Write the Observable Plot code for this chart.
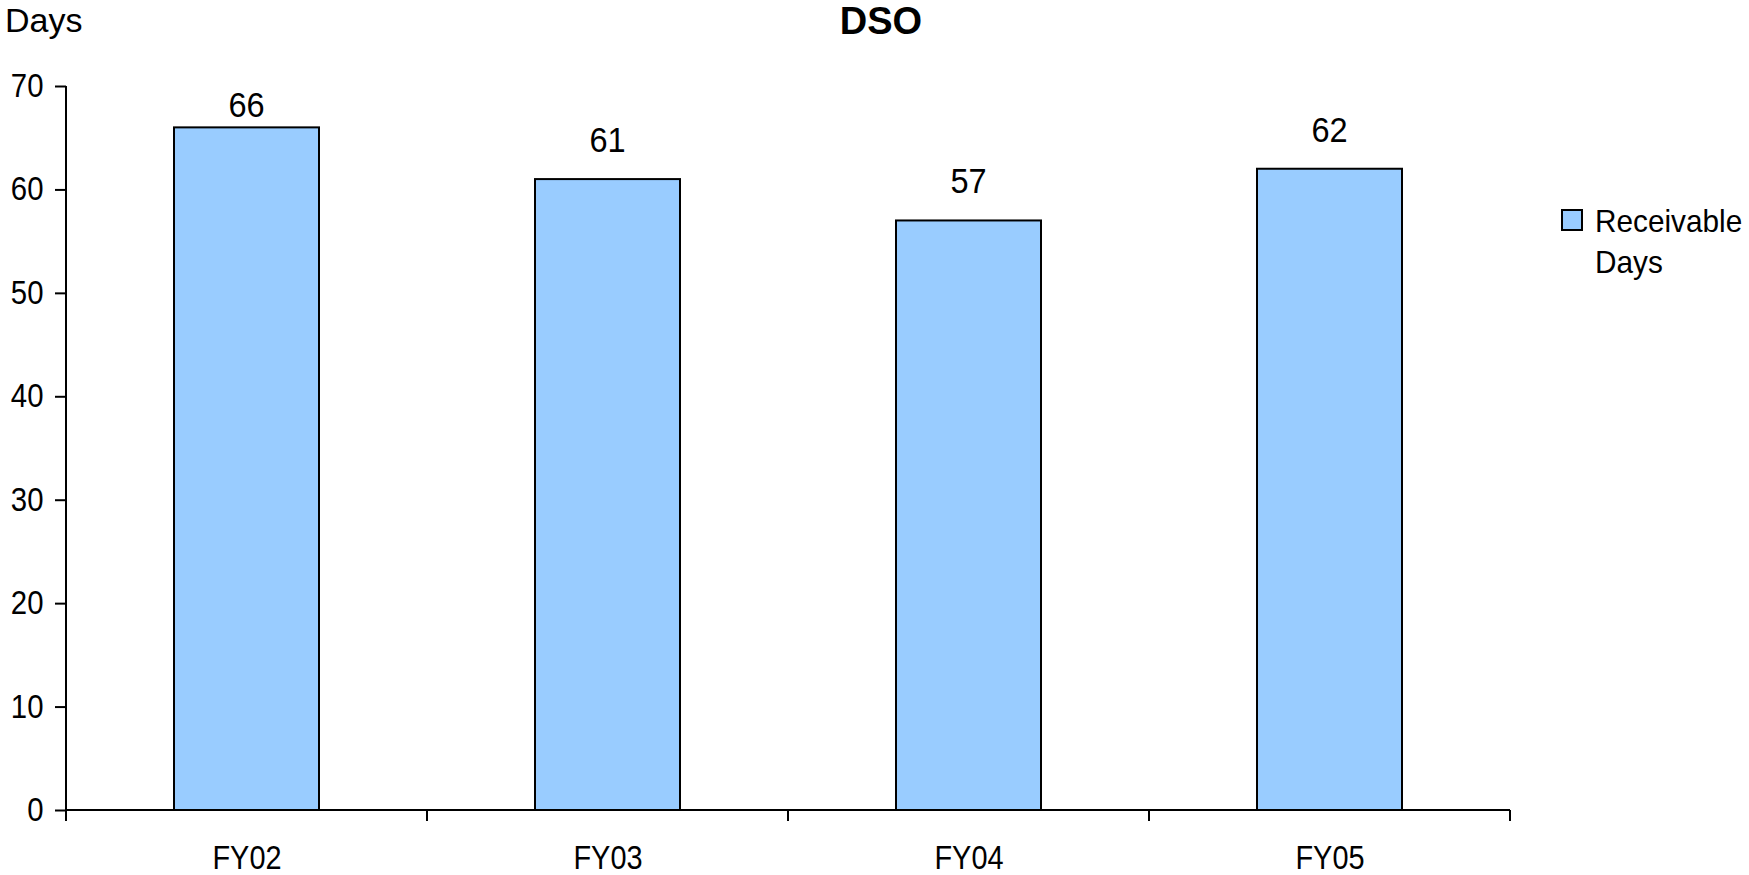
<!DOCTYPE html>
<html>
<head>
<meta charset="utf-8">
<script src="https://cdn.jsdelivr.net/npm/d3@7"></script>
<script src="https://cdn.jsdelivr.net/npm/@observablehq/plot@0.6"></script>
<style>
  html, body { margin: 0; padding: 0; background: #fff; }
  body { font-family: "Liberation Sans", Arial, sans-serif; }
  #chart { position: relative; width: 1749px; height: 875px; overflow: hidden; }
  #chart svg { position: absolute; left: 0; top: 0; }
  .title { position: absolute; left: 881px; top: 0px; transform: translateX(-50%); font-weight: bold; font-size: 38px; line-height: 42px; color: #000; white-space: nowrap; }
  .ylabel { position: absolute; left: 5px; top: 1px; font-size: 34px; line-height: 38px; color: #000; white-space: nowrap; }
  .legend { position: absolute; left: 1561px; top: 201px; width: 188px; height: 90px; }
  .legend .swatch { position: absolute; left: 0; top: 8px; width: 18px; height: 18px; border: 2px solid #000; background: #99CCFF; }
  .legend .text { position: absolute; left: 34px; top: 0; font-size: 32px; line-height: 41px; color: #000; white-space: nowrap; transform: scaleX(0.93); transform-origin: 0 0; }
</style>
</head>
<body>
<div id="chart">
  <div class="title">DSO</div>
  <div class="ylabel">Days</div>
  <div class="legend"><div class="swatch"></div><div class="text">Receivable<br>Days</div></div>
</div>
<script>
// Fiscal years and receivable days (DSO)
const years = ["FY02", "FY03", "FY04", "FY05"];
const receivableDays = [66, 61, 57, 62];
const yTicks = [0, 10, 20, 30, 40, 50, 60, 70];
const yMax = 70;

const data = years.map((year, i) => ({year, days: receivableDays[i]}));
const ns = "http://www.w3.org/2000/svg";

// Axis lines and category-boundary tick marks, drawn from the plot's own scales
function axisFrame(index, scales, values, dimensions) {
  const {x, y} = scales;
  const g = document.createElementNS(ns, "g");
  g.setAttribute("stroke", "#000");
  g.setAttribute("stroke-width", "2");
  const left = dimensions.marginLeft;
  const right = dimensions.width - dimensions.marginRight;
  const step = (right - left) / years.length;
  const y0 = y(0), yTop = y(yMax);
  const line = (x1, y1, x2, y2) => {
    const l = document.createElementNS(ns, "line");
    l.setAttribute("x1", x1); l.setAttribute("y1", y1);
    l.setAttribute("x2", x2); l.setAttribute("y2", y2);
    g.appendChild(l);
  };
  line(left, yTop, left, y0);          // y axis
  line(left, y0, right, y0);           // x axis
  const edges = years.map((d) => x(d)).concat([x(years[years.length - 1]) + step]);
  for (const e of edges) line(e, y0, e, y0 + 11);
  return g;
}

// Value labels above each bar, kept inside the plotting area at the top
function valueLabels(index, scales, values, dimensions) {
  const {x, y} = scales;
  const g = document.createElementNS(ns, "g");
  g.setAttribute("class", "value-label");
  g.setAttribute("text-anchor", "middle");
  g.setAttribute("font-size", "35");
  g.setAttribute("fill", "#000");
  const step = (dimensions.width - dimensions.marginLeft - dimensions.marginRight) / years.length;
  for (const d of data) {
    const t = document.createElementNS(ns, "text");
    t.setAttribute("x", x(d.year) + step / 2);
    t.setAttribute("y", Math.max(y(d.days) - 27, y(yMax) + 31));
    t.textContent = String(d.days);
    g.appendChild(t);
  }
  return g;
}

const plot = Plot.plot({
  width: 1749,
  height: 875,
  marginLeft: 66,
  marginRight: 239,
  marginTop: 86,
  marginBottom: 65,
  style: {fontFamily: `"Liberation Sans", Arial, sans-serif`, fontSize: "34px", color: "#000", background: "transparent"},
  x: {domain: years, padding: 0, axis: null},
  y: {domain: [0, yMax], axis: null},
  marks: [
    Plot.barY(data, {x: "year", y: "days", fill: "#99CCFF", stroke: "#000", strokeWidth: 2, insetLeft: 108, insetRight: 108}),
    valueLabels,
    Plot.axisY(yTicks, {tickSize: 11, tickPadding: 12, stroke: "#000", strokeWidth: 2, fontSize: 33, label: null, className: "y-tick"}),
    Plot.axisX({tickSize: 0, tickPadding: 0, lineAnchor: "bottom", dy: 58, fontSize: 34, label: null, className: "x-tick"}),
    axisFrame
  ]
});

const chart = document.getElementById("chart");
chart.insertBefore(plot, chart.firstChild);

// Narrow the numeric and category labels horizontally (condensed face)
function condense(selector, factor) {
  plot.querySelectorAll(selector).forEach((t) => {
    const w = t.getComputedTextLength();
    if (w > 0) {
      t.setAttribute("textLength", (w * factor).toFixed(2));
      t.setAttribute("lengthAdjust", "spacingAndGlyphs");
    }
  });
}
condense(".y-tick text", 0.89);
condense(".x-tick text", 0.85);
condense(".value-label text", 0.93);
</script>
</body>
</html>
